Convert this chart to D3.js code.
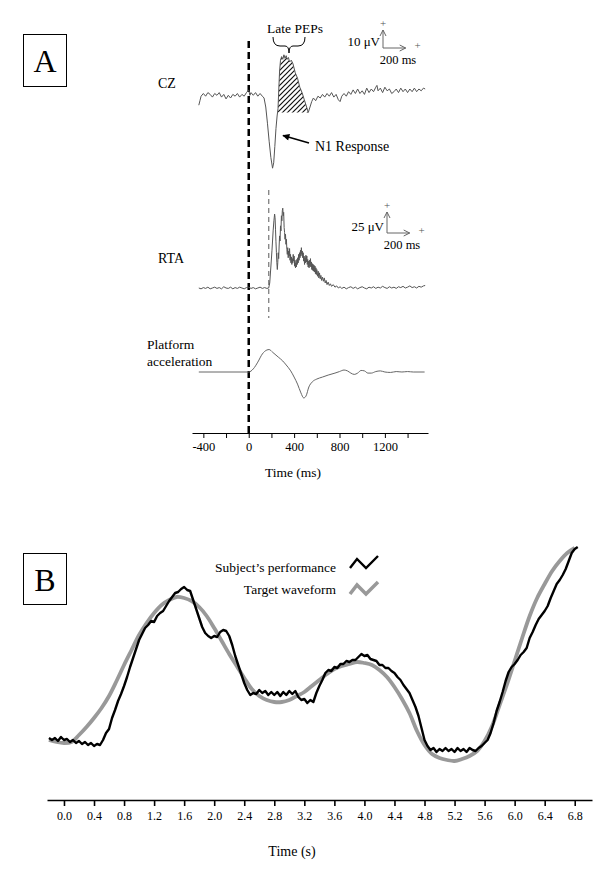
<!DOCTYPE html>
<html lang="en">
<head>
<meta charset="utf-8">
<title>PEPs and tracking</title>
<style>
  body { margin: 0; background: #fff; }
  svg { display: block; }
  text { font-family: "Liberation Serif", "Times New Roman", serif; fill: #000; }
  .axis text { font-family: "Liberation Serif", "Times New Roman", serif; font-size: 12.5px; fill: #000; }
  .axis path, .axis line { stroke: #000; }
</style>
</head>
<body>
<div id="chart"></div>
<script src="https://d3js.org/d3.v7.min.js"></script>
<script>
// ---------- panel A data (time in ms) ----------
// CZ EEG, microvolts
var czData = [[-440,-4],[-430,-1.5],[-420,1],[-400,2.5],[-380,1],[-360,3],[-340,2],[-320,0.5],[-300,2.5],
  [-280,1.5],[-260,3],[-240,0.5],[-220,2],[-200,-0.5],[-180,1.5],[-160,0],[-140,2],[-120,1],[-100,2.5],
  [-80,0.5],[-60,2],[-40,1],[-20,3],[0,4.5],[10,1.5],[20,3],[40,1.5],[60,3],[80,1],[100,2.5],[120,1],
  [135,0],[150,-5],[165,-14],[180,-24],[195,-33],[210,-39],[220,-36],[230,-27],[240,-17],[250,-10],
  [258,-6],[265,5],[272,15],[280,21],[290,23],[300,21.5],[310,24],[320,22],[330,23.5],[340,21.5],
  [350,22.5],[360,20],[375,21],[390,19],[410,14],[430,11],[450,6],[470,3],[490,-1],[510,-5],[525,-8],
  [540,-5],[555,-2],[570,0],[590,-1.5],[610,1],[630,0],[650,2],[670,0.5],[690,2.5],[710,1],[730,3],
  [750,0.5],[770,2],[790,-1],[805,-2],[820,1],[840,2.5],[860,1],[880,3.5],[900,2],[920,4.5],[940,2.5],
  [960,5],[980,2.5],[1000,4],[1020,2],[1040,5.5],[1060,3],[1080,5],[1100,3.5],[1120,6],[1130,7],
  [1140,4],[1160,5.5],[1180,3],[1200,6],[1220,4],[1240,5],[1260,2.5],[1280,3.5],[1300,5],[1320,3],
  [1340,5.5],[1360,3.5],[1380,5],[1400,3],[1420,5],[1440,3.5],[1460,5.5],[1480,3.5],[1500,5],
  [1520,4],[1540,5.5],[1555,5]];

// late PEPs window (ms) and hatch floor (microvolts)
var pepWindow = [258, 525];
var pepFloor = -8;

// RTA EMG, microvolts
var rtaData = [[-440,0],[-420,-1],[-400,0.5],[-380,-0.5],[-360,1],[-340,-1],[-320,0],[-300,1],[-280,-0.5],
  [-260,0.5],[-240,-1],[-220,1.5],[-200,0],[-180,-0.5],[-160,1],[-140,-1],[-120,0.5],[-100,-0.5],[-80,1],
  [-60,0],[-40,-1],[-20,0.5],[0,1],[20,-0.5],[40,0.5],[60,-1],[80,0],[100,1],[120,-0.5],[140,0.5],
  [160,-0.5],[176,0],[185,6],[195,25],[205,45],[215,68],[222,80],[228,88],[232,84],[236,70],[240,55],
  [244,42],[248,30],[252,22],[256,30],[260,42],[264,35],[268,50],[272,62],[276,56],[280,74],[284,68],
  [288,86],[292,80],[296,92],[300,95],[304,86],[308,90],[312,72],[316,66],[320,58],[324,64],[328,52],
  [332,58],[336,46],[340,40],[344,48],[348,36],[352,44],[356,38],[360,47],[364,33],[368,40],[372,30],
  [376,37],[380,28],[384,35],[388,30],[392,40],[396,32],[400,38],[404,26],[408,33],[412,24],[416,30],
  [420,25],[424,34],[428,28],[432,36],[436,30],[440,40],[444,33],[448,42],[452,36],[456,45],[460,38],
  [464,48],[468,40],[472,44],[476,36],[480,42],[484,32],[488,38],[492,28],[496,36],[500,30],[504,39],
  [508,31],[512,38],[516,28],[520,34],[524,25],[528,32],[532,24],[536,33],[540,26],[544,35],[548,25],
  [552,31],[556,22],[560,29],[564,21],[568,28],[572,20],[576,27],[580,19],[584,26],[588,17],[592,24],
  [596,16],[600,22],[606,14],[612,20],[618,12],[624,18],[630,11],[636,15],[642,9],[650,13],[658,8],
  [666,12],[674,6],[682,9],[690,4],[700,7],[710,3],[720,5],[730,2],[745,4],[760,1],[775,2.5],[790,0],
  [805,1.5],[820,-0.5],[840,1],[860,-1],[880,0.5],[900,1.5],[920,-0.5],[940,1],[960,-1],[980,0.5],
  [1000,1.5],[1020,0],[1040,-1],[1060,1],[1080,0],[1100,1.5],[1120,-0.5],[1140,1],[1160,0],[1180,2],
  [1200,0.5],[1220,-0.5],[1240,1.5],[1260,0],[1280,1],[1300,-0.5],[1320,1.5],[1340,0.5],[1360,2],
  [1380,0],[1400,1],[1420,2.5],[1440,0.5],[1460,1.5],[1480,0],[1500,2],[1520,1],[1540,2.5],[1555,3]];

var rtaOnset = 176;   // ms, grey dashed marker

// platform acceleration, normalised
var platData = [[-440,0],[0,0],[40,0.14],[80,0.45],[120,0.82],[160,1.0],[180,1.02],[210,0.9],[260,0.68],
  [300,0.5],[330,0.32],[370,0.05],[400,-0.23],[430,-0.55],[460,-0.95],[485,-1.18],[505,-1.09],[530,-0.68],
  [560,-0.45],[600,-0.32],[650,-0.23],[700,-0.14],[760,-0.05],[800,0.02],[840,0.09],[870,0.05],[900,-0.05],
  [930,-0.11],[960,-0.05],[990,0.07],[1020,0.05],[1050,-0.05],[1080,-0.05],[1120,0.02],[1160,0.05],
  [1200,0],[1250,-0.02],[1300,0.02],[1350,0],[1400,0.02],[1450,0],[1550,0]];

var msTicks = [-400,-200,0,200,400,600,800,1000,1200,1400];
var msLabels = [-400,0,400,800,1200];

// ---------- panel B data (time in s, position a.u.) ----------
var bStart = -0.2;
var perfStep = 0.04;
var performance = [11,10,11,9.5,11.5,10,10.5,9,10,8.5,9.5,8,9,7.5,8.5,7,8,7.5,10,13.5,15.5,21,25,29.5,33,37,
  41.5,46.5,51,55.5,60,63,66,67.5,69.5,69,72,73.5,74.5,77,79.5,81.5,83.5,84,85.5,86.5,85,84.5,80,75.5,71,
  66.5,63.5,62,61,62,61.5,64,65,64.5,62,57.5,52,47.5,43,38.5,35,32.5,33.5,33,35,33.5,34.5,32.5,34,32.5,34,
  32,34,32.5,34.5,33,34.5,31.5,30,30.5,28.5,30,29,33.5,37,40,43.5,45,44.5,46.5,46,48,48,49.5,49,50,50,51.5,
  53,52,52.5,50.5,50,49.5,47.5,47.5,46,46,44.5,43.5,41.5,40,37.5,35.5,33.5,30,26.5,22,16,10,7,5,6,4,5.5,
  4.5,6,4.5,5.5,4,6,4.5,5.5,4,6,5,4.5,6,7,8.5,10,13.5,18.5,24.5,29,34,39.5,44,46.5,48,50,52.5,54,56,61,64,
  67.5,70.5,72.5,74.5,77,81,84.5,88,90,92.5,95.5,99.5,103.5,105.5,106.5];

var targetStep = 0.1;
var target = [10,9,8.5,9,12.5,16.5,21,26,32,39.5,47.5,55,62.5,68.5,73.5,77.5,80,81.5,81,79.5,76.5,72,66,59.5,
  53,47,41,35.5,32,30,29,29,30,32,34,37,40,43,45.5,47,48,49,48.5,47.5,45,41.5,36.5,30.5,23.5,14.5,7.5,3,1,
  0,-0.5,0.5,2,4.5,9.5,17,27.5,38,49.5,61,72,81,88,94.5,99.5,103.5,106];

var sTicks = d3.range(0, 6.81, 0.4);

// ---------- svg ----------
var svg = d3.select("#chart").append("svg")
  .attr("width", 600).attr("height", 882);

svg.append("rect").attr("width", 600).attr("height", 882).attr("fill", "#fff");

var defs = svg.append("defs");
defs.append("pattern")
  .attr("id", "hatch").attr("patternUnits", "userSpaceOnUse")
  .attr("width", 5).attr("height", 5)
  .append("path")
  .attr("d", "M-1,1 l2,-2 M0,5 l5,-5 M4,6 l2,-2")
  .attr("stroke", "#111").attr("stroke-width", 1.2);

defs.append("marker")
  .attr("id", "head").attr("viewBox", "0 0 10 10")
  .attr("refX", 9).attr("refY", 5)
  .attr("markerWidth", 9).attr("markerHeight", 7)
  .attr("markerUnits", "userSpaceOnUse")
  .attr("orient", "auto")
  .append("path").attr("d", "M0,0 L10,5 L0,10 z").attr("fill", "#000");

// ================= panel A =================
var xA = d3.scaleLinear().domain([-500, 1580]).range([192, 428]);
var czY = d3.scaleLinear().domain([0, 10]).range([98, 80]);
var rtaY = d3.scaleLinear().domain([0, 25]).range([288, 267]);
var platY = d3.scaleLinear().domain([0, 1]).range([372, 350]);

// panel label
svg.append("rect").attr("x", 23.5).attr("y", 34.5).attr("width", 43).attr("height", 52)
  .attr("fill", "none").attr("stroke", "#000").attr("stroke-width", 1);
svg.append("text").attr("x", 45).attr("y", 72).attr("text-anchor", "middle")
  .style("font-size", "32px").text("A");

// stimulus onset line
svg.append("line")
  .attr("x1", xA(0)).attr("x2", xA(0)).attr("y1", 41).attr("y2", 433)
  .attr("stroke", "#000").attr("stroke-width", 2.5).attr("stroke-dasharray", "7,4");

// hatched late PEPs
var pepArea = d3.area()
  .x(function(d) { return xA(d[0]); })
  .y0(czY(pepFloor))
  .y1(function(d) { return czY(d[1]); });
svg.append("path")
  .datum(czData.filter(function(d) { return d[0] >= pepWindow[0] && d[0] <= pepWindow[1]; }))
  .attr("d", pepArea)
  .attr("fill", "url(#hatch)");

function traceLine(y) {
  return d3.line().x(function(d) { return xA(d[0]); }).y(function(d) { return y(d[1]); });
}

svg.append("path").datum(czData).attr("d", traceLine(czY))
  .attr("fill", "none").attr("stroke", "#555").attr("stroke-width", 1);

// RTA onset marker
svg.append("line")
  .attr("x1", xA(rtaOnset)).attr("x2", xA(rtaOnset)).attr("y1", 190).attr("y2", 318)
  .attr("stroke", "#888").attr("stroke-width", 1.4).attr("stroke-dasharray", "5,4");

svg.append("path").datum(rtaData).attr("d", traceLine(rtaY))
  .attr("fill", "none").attr("stroke", "#555").attr("stroke-width", 1);

svg.append("path").datum(platData).attr("d", traceLine(platY).curve(d3.curveMonotoneX))
  .attr("fill", "none").attr("stroke", "#666").attr("stroke-width", 1);

// trace labels
svg.append("text").attr("x", 158).attr("y", 88).style("font-size", "14px").text("CZ");
svg.append("text").attr("x", 158).attr("y", 263).style("font-size", "14px").text("RTA");
svg.append("text").attr("x", 147).attr("y", 349).style("font-size", "13.5px").text("Platform");
svg.append("text").attr("x", 147).attr("y", 366).style("font-size", "13.5px").text("acceleration");

// Late PEPs label + brace
svg.append("text").attr("x", 295).attr("y", 33).attr("text-anchor", "middle")
  .style("font-size", "13.5px").text("Late PEPs");
svg.append("path")
  .attr("d", "M273,37 Q273,46 280,46 L285,46 Q289,46 289,53 Q289,46 293,46 L298,46 Q305,46 305,37")
  .attr("fill", "none").attr("stroke", "#000").attr("stroke-width", 1);

// N1 annotation
svg.append("line").attr("x1", 309).attr("y1", 143).attr("x2", 283).attr("y2", 135.5)
  .attr("stroke", "#000").attr("stroke-width", 1.6).attr("marker-end", "url(#head)");
svg.append("text").attr("x", 315).attr("y", 151).style("font-size", "14px").text("N1 Response");

// scale bars
function scaleBar(x0, y0, h, w, label) {
  var g = svg.append("g").attr("stroke", "#666").attr("fill", "none").attr("stroke-width", 1);
  g.append("path").attr("d", "M" + x0 + "," + y0 + " V" + (y0 - h) +
    " M" + (x0 - 3) + "," + (y0 - h + 6) + " L" + x0 + "," + (y0 - h) + " L" + (x0 + 3) + "," + (y0 - h + 6));
  g.append("path").attr("d", "M" + x0 + "," + y0 + " H" + (x0 + w) +
    " M" + (x0 + w - 6) + "," + (y0 - 3) + " L" + (x0 + w) + "," + y0 + " L" + (x0 + w - 6) + "," + (y0 + 3));
  svg.append("text").attr("x", x0).attr("y", y0 - h - 3).attr("text-anchor", "middle")
    .style("font-size", "11px").style("fill", "#555").text("+");
  svg.append("text").attr("x", x0 + w + 12).attr("y", y0 + 1).attr("text-anchor", "middle")
    .style("font-size", "11px").style("fill", "#555").text("+");
  svg.append("text").attr("x", x0 - 3).attr("y", y0 - 2).attr("text-anchor", "end")
    .style("font-size", "13px").text(label);
  svg.append("text").attr("x", x0 + 15).attr("y", y0 + 16).attr("text-anchor", "middle")
    .style("font-size", "12.5px").text("200 ms");
}
scaleBar(383, 48, czY(0) - czY(10), xA(200) - xA(0), "10 \u03bcV");
scaleBar(387, 233, rtaY(0) - rtaY(25), xA(200) - xA(0), "25 \u03bcV");

// time axis A
svg.append("g").attr("class", "axis")
  .attr("transform", "translate(0,433)")
  .call(d3.axisBottom(xA).tickValues(msTicks).tickSize(5).tickSizeOuter(0).tickPadding(4)
    .tickFormat(function(d) { return msLabels.indexOf(d) >= 0 ? String(d) : ""; }));
svg.append("text").attr("x", 293).attr("y", 477).attr("text-anchor", "middle")
  .style("font-size", "13.5px").text("Time (ms)");

// ================= panel B =================
var xB = d3.scaleLinear().domain([-0.226, 7.03]).range([47, 592]);
var yB = d3.scaleLinear().domain([0, 100]).range([760, 560]);

svg.append("rect").attr("x", 23.5).attr("y", 553.5).attr("width", 43).attr("height", 51)
  .attr("fill", "none").attr("stroke", "#000").attr("stroke-width", 1);
svg.append("text").attr("x", 45).attr("y", 591).attr("text-anchor", "middle")
  .style("font-size", "32px").text("B");

var lineB = function(step) {
  return d3.line()
    .x(function(d, i) { return xB(bStart + i * step); })
    .y(function(d) { return yB(d); });
};

svg.append("path").datum(target)
  .attr("d", lineB(targetStep).curve(d3.curveCatmullRom))
  .attr("fill", "none").attr("stroke", "#999").attr("stroke-width", 3.8)
  .attr("stroke-linejoin", "round");

svg.append("path").datum(performance)
  .attr("d", lineB(perfStep))
  .attr("fill", "none").attr("stroke", "#000").attr("stroke-width", 2.4)
  .attr("stroke-linejoin", "round");

// legend
svg.append("text").attr("x", 336).attr("y", 572).attr("text-anchor", "end")
  .style("font-size", "13.5px").text("Subject\u2019s performance");
svg.append("text").attr("x", 336).attr("y", 594).attr("text-anchor", "end")
  .style("font-size", "13.5px").text("Target waveform");
svg.append("polyline").attr("points", "350,568 357,559 366,568 378,556")
  .attr("fill", "none").attr("stroke", "#000").attr("stroke-width", 2.4);
svg.append("polyline").attr("points", "350,594 357,585 366,594 378,582")
  .attr("fill", "none").attr("stroke", "#999").attr("stroke-width", 3.5);

// time axis B
var axB = svg.append("g").attr("class", "axis")
  .attr("transform", "translate(0,800)")
  .call(d3.axisBottom(xB).tickValues(sTicks).tickSize(6).tickSizeOuter(0).tickPadding(5)
    .tickFormat(d3.format(".1f")));
axB.select(".domain").attr("stroke-width", 1.3);
axB.selectAll(".tick line").attr("stroke-width", 1.6);
axB.selectAll("text").style("font-size", "12px");

svg.append("text").attr("x", 292).attr("y", 856).attr("text-anchor", "middle")
  .style("font-size", "14px").text("Time (s)");
</script>
</body>
</html>
